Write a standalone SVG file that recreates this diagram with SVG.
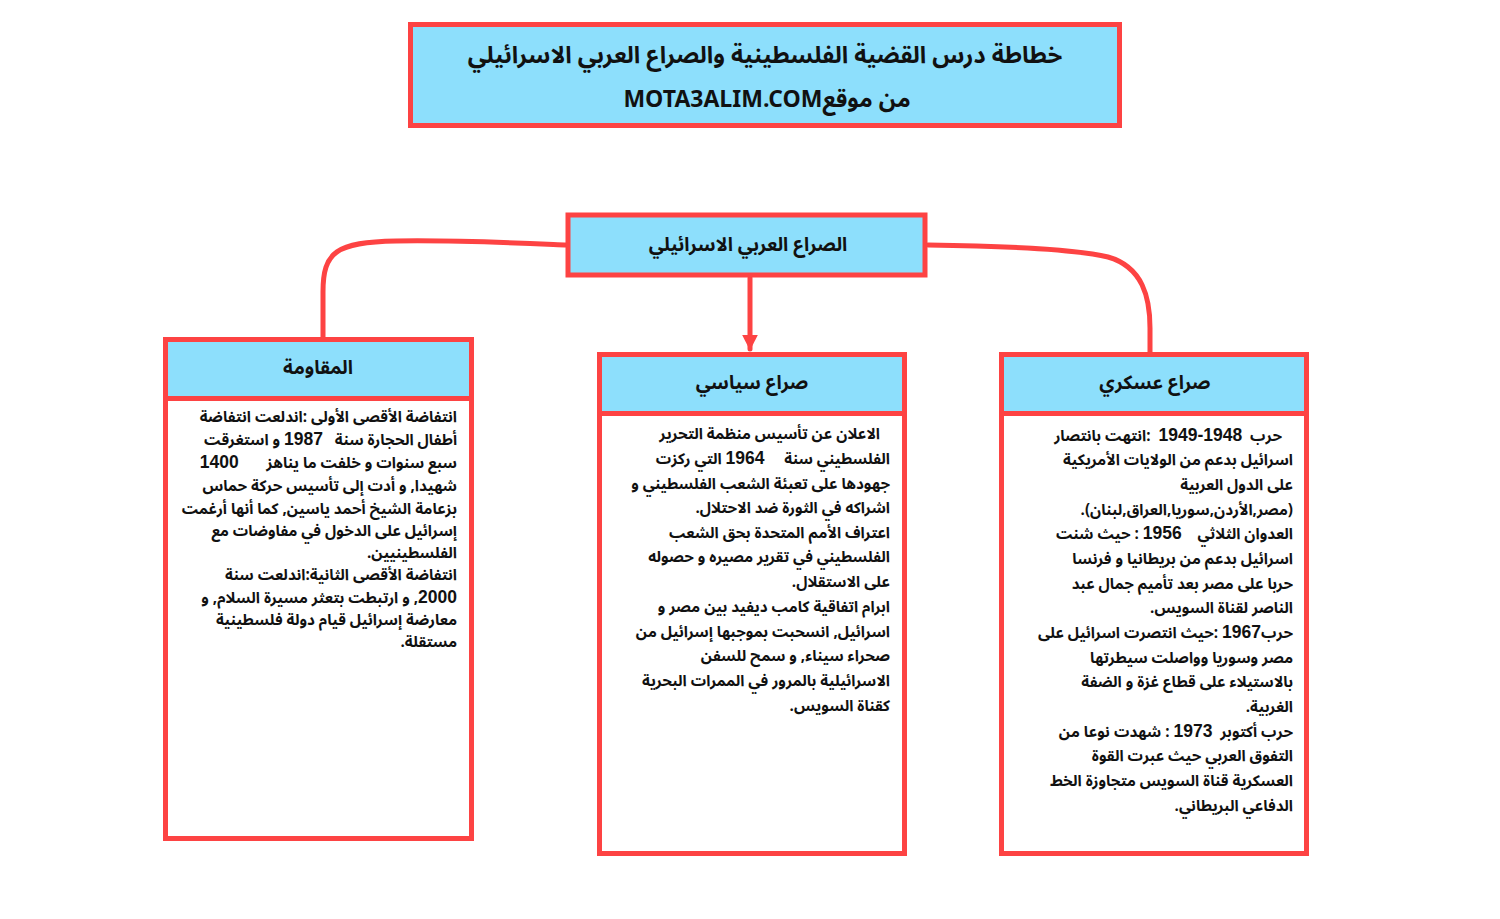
<svg xmlns="http://www.w3.org/2000/svg" width="1500" height="919" viewBox="0 0 1500 919">
<defs>
<style>
.box{fill:#ffffff;stroke:#fd4343;stroke-width:5}
.head{fill:#8ddffc;stroke:#fd4343;stroke-width:5}
.conn{fill:none;stroke:#fd4343;stroke-width:5;stroke-linecap:round}
.ttl{font-family:"Noto Sans Arabic","DejaVu Sans",sans-serif;font-weight:bold;fill:#111;text-anchor:middle}
.body{font-family:"Noto Sans Arabic","DejaVu Sans",sans-serif;font-size:15.2px;font-weight:bold;fill:#111;direction:rtl;text-anchor:start;white-space:pre}
.num{font-family:"Liberation Sans",Arial,sans-serif;font-size:17.5px;font-weight:bold}
</style>
<marker id="ah" viewBox="0 0 10 10" refX="9" refY="5" markerWidth="3.2" markerHeight="3.2" orient="auto" markerUnits="strokeWidth">
<path d="M0,0 L10,5 L0,10 z" fill="#fd4343"/>
</marker>
</defs>
<rect width="1500" height="919" fill="#ffffff"/>

<g id="connectors">
<path class="conn" d="M323,338 L323,292 C323,252 336,242 396,241 C460,240 520,243 567,245"/>
<path class="conn" d="M928,245 C1000,246 1075,249 1108,257 C1143,267 1150,298 1150,328 L1150,352"/>
<path class="conn" d="M750,278 L750,349" marker-end="url(#ah)"/>
</g>

<g id="title">
<rect class="head" x="410.5" y="24.5" width="709" height="101"/>
<text class="ttl" x="765" y="63" font-size="23.5" direction="rtl">خطاطة درس القضية الفلسطينية والصراع العربي الاسرائيلي</text>
<text class="ttl" x="767" y="107" font-size="23" direction="rtl">من موقعMOTA3ALIM.COM</text>
</g>

<g id="center">
<rect class="head" x="568" y="215" width="357" height="60" stroke-width="6"/>
<text class="ttl" x="748" y="251" font-size="19" direction="rtl">الصراع العربي الاسرائيلي</text>
</g>

<g id="resistance">
<rect class="box" x="165.5" y="339.5" width="306" height="499"/>
<rect class="head" x="165.5" y="339.5" width="306" height="59"/>
<text class="ttl" x="318" y="374" font-size="19" direction="rtl">المقاومة</text>
<text class="body" x="457" y="422">انتفاضة الأقصى الأولى :اندلعت انتفاضة</text>
<text class="body" x="457" y="445">أطفال الحجارة سنة   <tspan class="num">1987</tspan> و استغرقت</text>
<text class="body" x="457" y="468">سبع سنوات و خلفت ما يناهز       <tspan class="num">1400</tspan></text>
<text class="body" x="457" y="491">شهيدا, و أدت إلى تأسيس حركة حماس</text>
<text class="body" x="457" y="514">بزعامة الشيخ أحمد ياسين, كما أنها أرغمت</text>
<text class="body" x="457" y="536">إسرائيل على الدخول في مفاوضات مع</text>
<text class="body" x="457" y="558">الفلسطينيين.</text>
<text class="body" x="457" y="580">انتفاضة الأقصى الثانية:اندلعت سنة</text>
<text class="body" x="457" y="603"><tspan class="num">2000</tspan>, و ارتبطت بتعثر مسيرة السلام, و</text>
<text class="body" x="457" y="625">معارضة إسرائيل قيام دولة فلسطينية</text>
<text class="body" x="457" y="647">مستقلة.</text>
</g>

<g id="political">
<rect class="box" x="599.5" y="354.5" width="305" height="499"/>
<rect class="head" x="599.5" y="354.5" width="305" height="59"/>
<text class="ttl" x="752" y="389" font-size="19" direction="rtl">صراع سياسي</text>
<text class="body" x="880" y="439">الاعلان عن تأسيس منظمة التحرير</text>
<text class="body" x="890" y="464">الفلسطيني سنة     <tspan class="num">1964</tspan> التي ركزت</text>
<text class="body" x="890" y="489">جهودها على تعبئة الشعب الفلسطيني و</text>
<text class="body" x="890" y="513">اشراكه في الثورة ضد الاحتلال.</text>
<text class="body" x="890" y="538">اعتراف الأمم المتحدة بحق الشعب</text>
<text class="body" x="890" y="562">الفلسطيني في تقرير مصيره و حصوله</text>
<text class="body" x="890" y="587">على الاستقلال.</text>
<text class="body" x="890" y="612">ابرام اتفاقية كامب ديفيد بين مصر و</text>
<text class="body" x="890" y="637">اسرائيل, انسحبت بموجبها إسرائيل من</text>
<text class="body" x="890" y="661">صحراء سيناء, و سمح للسفن</text>
<text class="body" x="890" y="686">الاسرائيلية بالمرور في الممرات البحرية</text>
<text class="body" x="890" y="711">كقناة السويس.</text>
</g>

<g id="military">
<rect class="box" x="1001.5" y="354.5" width="305" height="499"/>
<rect class="head" x="1001.5" y="354.5" width="305" height="59"/>
<text class="ttl" x="1155" y="389" font-size="19" direction="rtl">صراع عسكري</text>
<text class="body" x="1282" y="441">حرب  <tspan class="num">1948-1949</tspan>  :انتهت بانتصار</text>
<text class="body" x="1293" y="465">اسرائيل بدعم من الولايات الأمريكية</text>
<text class="body" x="1293" y="490">على الدول العربية</text>
<text class="body" x="1293" y="515">(مصر,الأردن,سوريا,العراق,لبنان).</text>
<text class="body" x="1293" y="539">العدوان الثلاثي    <tspan class="num">1956</tspan> : حيث شنت</text>
<text class="body" x="1293" y="564">اسرائيل بدعم من بريطانيا و فرنسا</text>
<text class="body" x="1293" y="589">حربا على مصر بعد تأميم جمال عبد</text>
<text class="body" x="1293" y="613">الناصر لقناة السويس.</text>
<text class="body" x="1293" y="638">حرب<tspan class="num">1967</tspan> :حيث انتصرت اسرائيل على</text>
<text class="body" x="1293" y="663">مصر وسوريا وواصلت سيطرتها</text>
<text class="body" x="1293" y="687">بالاستيلاء على قطاع غزة و الضفة</text>
<text class="body" x="1293" y="712">الغربية.</text>
<text class="body" x="1293" y="737">حرب أكتوبر  <tspan class="num">1973</tspan> : شهدت نوعا من</text>
<text class="body" x="1293" y="761">التفوق العربي حيث عبرت القوة</text>
<text class="body" x="1293" y="786">العسكرية قناة السويس متجاوزة الخط</text>
<text class="body" x="1293" y="811">الدفاعي البريطاني.</text>
</g>
</svg>
